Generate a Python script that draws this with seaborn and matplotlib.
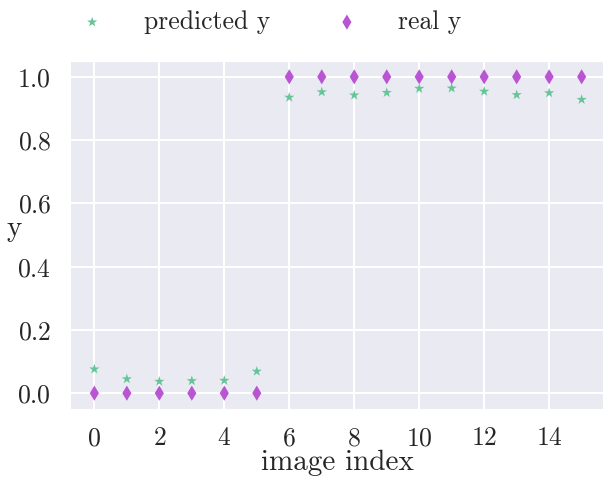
import numpy as np
import pandas as pd
import seaborn as sns
import matplotlib.pyplot as plt

image_index = list(range(16))
predicted_y = [0.076, 0.045, 0.037, 0.039, 0.040, 0.069,
               0.935, 0.952, 0.942, 0.950, 0.963, 0.964, 0.954, 0.943, 0.949, 0.928]
real_y = [0, 0, 0, 0, 0, 0, 1, 1, 1, 1, 1, 1, 1, 1, 1, 1]

sns.set_style('darkgrid')
plt.rcParams['font.family'] = 'serif'
plt.rcParams['font.serif'] = ['cmr10']
plt.rcParams['mathtext.fontset'] = 'cm'
plt.rcParams['axes.formatter.use_mathtext'] = True
plt.rcParams['grid.linewidth'] = 1.5

fig = plt.figure(figsize=(6.03, 4.79), dpi=100)
ax = fig.add_axes([70 / 603, 70 / 479, 536 / 603, 348 / 479])

sns.scatterplot(x=image_index, y=predicted_y, marker='*', s=60, color='#66c598',
                edgecolor='none', label='predicted y', ax=ax)
sns.scatterplot(x=image_index, y=real_y, marker='d', s=60, color='#b954d3',
                edgecolor='none', label='real y', ax=ax)

ax.set_xticks([0, 2, 4, 6, 8, 10, 12, 14])
ax.set_yticks([0.0, 0.2, 0.4, 0.6, 0.8, 1.0])
ax.tick_params(labelsize=18.5, pad=10)
ax.tick_params(axis='x', pad=9)
ax.set_xlabel('image index', fontsize=21, labelpad=0)
ax.set_ylabel('y', fontsize=21, rotation=0, labelpad=3)
ax.yaxis.set_label_coords(-0.105, 0.48)

ax.legend(loc='center', bbox_to_anchor=(264 / 603, 1 - 22 / 479),
          bbox_transform=fig.transFigure, ncol=2, frameon=False,
          fontsize=18.5, handletextpad=1.0, columnspacing=2.0, markerscale=1.0)

fig.savefig('out.png', dpi=100)
